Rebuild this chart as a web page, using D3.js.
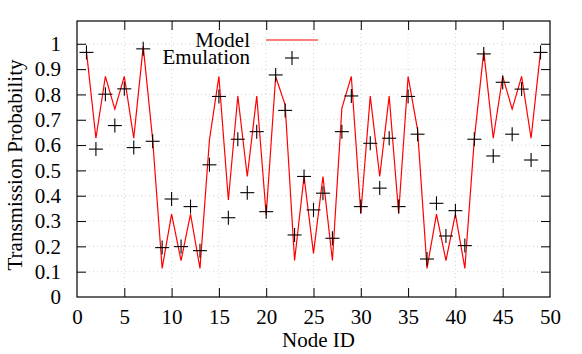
<!DOCTYPE html>
<html>
<head>
<meta charset="utf-8">
<script src="https://cdn.jsdelivr.net/npm/d3@7"></script>
<style>
  body { margin: 0; background: #fff; }
  text { font-family: "Liberation Serif", serif; fill: #000; }
</style>
</head>
<body>
<svg id="chart" width="582" height="354"></svg>
<script>
// node ids 1..49
var nodes = d3.range(1, 50);

var model = [0.97, 0.627, 0.871, 0.742, 0.871, 0.627, 0.99, 0.62, 0.113, 0.327,
             0.144, 0.327, 0.113, 0.62, 0.871, 0.383, 0.794, 0.476, 0.794, 0.324,
             0.871, 0.759, 0.144, 0.476, 0.172, 0.476, 0.144, 0.746, 0.871, 0.33,
             0.794, 0.476, 0.794, 0.33, 0.871, 0.66, 0.113, 0.327, 0.144, 0.327,
             0.113, 0.623, 0.97, 0.627, 0.871, 0.742, 0.871, 0.627, 0.97];

var emulation = [0.966, 0.584, 0.801, 0.677, 0.822, 0.59, 0.98, 0.615, 0.195, 0.387,
                 0.199, 0.357, 0.183, 0.522, 0.792, 0.313, 0.623, 0.412, 0.653, 0.337,
                 0.877, 0.737, 0.245, 0.476, 0.344, 0.41, 0.232, 0.653, 0.794, 0.357,
                 0.607, 0.43, 0.627, 0.357, 0.792, 0.643, 0.15, 0.37, 0.241, 0.341,
                 0.203, 0.623, 0.96, 0.557, 0.848, 0.643, 0.821, 0.541, 0.966];

var xTicks = d3.range(0, 51, 5);
var yTicks = d3.range(0, 11).map(function(d) { return d / 10; });

// plot frame (window.top is read-only, so no "top" here)
var frame = { left: 77, right: 550, top: 21, bottom: 297 };

var x = d3.scaleLinear().domain([0, 50]).range([frame.left, frame.right]);
var y = d3.scaleLinear().domain([0, 1.09]).range([frame.bottom, frame.top]);

var svg = d3.select("#chart");

// grid
var grid = svg.append("g")
  .attr("stroke", "#c8c8c8")
  .attr("stroke-width", 0.8)
  .attr("stroke-dasharray", "1,3");

grid.selectAll("line.gx").data(xTicks.slice(1, -1)).enter()
  .append("line")
  .attr("x1", function(d) { return x(d); })
  .attr("x2", function(d) { return x(d); })
  .attr("y1", frame.top).attr("y2", frame.bottom);

grid.selectAll("line.gy").data(yTicks.slice(1)).enter()
  .append("line")
  .attr("x1", frame.left).attr("x2", frame.right)
  .attr("y1", function(d) { return y(d); })
  .attr("y2", function(d) { return y(d); });

// axes: ticks inward, mirrored on top and right
var tickLen = 9;

var xAxis = svg.append("g")
  .attr("transform", "translate(0," + frame.bottom + ")")
  .call(d3.axisBottom(x).tickValues(xTicks).tickSizeInner(-tickLen).tickSizeOuter(0).tickPadding(12));

var xAxisTop = svg.append("g")
  .attr("transform", "translate(0," + frame.top + ")")
  .call(d3.axisTop(x).tickValues(xTicks).tickSizeInner(-tickLen).tickSizeOuter(0).tickFormat(""));

var yAxis = svg.append("g")
  .attr("transform", "translate(" + frame.left + ",0)")
  .call(d3.axisLeft(y).tickValues(yTicks).tickSizeInner(-tickLen).tickSizeOuter(0).tickPadding(16)
    .tickFormat(function(d) { return d === 0 ? "0" : d === 1 ? "1" : d3.format(".1f")(d); }));

var yAxisRight = svg.append("g")
  .attr("transform", "translate(" + frame.right + ",0)")
  .call(d3.axisRight(y).tickValues(yTicks).tickSizeInner(-tickLen).tickSizeOuter(0).tickFormat(""));

svg.selectAll(".domain").remove();
svg.selectAll(".tick line").attr("stroke", "#000").attr("stroke-width", 1);
svg.selectAll(".tick text")
  .style("font-family", "'Liberation Serif', serif")
  .style("font-size", "21px")
  .attr("fill", "#000");

// no ticks on the frame corners
xAxis.selectAll(".tick").filter(function(d) { return d === 0 || d === 50; }).select("line").remove();
xAxisTop.selectAll(".tick").filter(function(d) { return d === 0 || d === 50; }).select("line").remove();
yAxis.selectAll(".tick").filter(function(d) { return d === 0; }).select("line").remove();
yAxisRight.selectAll(".tick").filter(function(d) { return d === 0; }).select("line").remove();

// frame
svg.append("rect")
  .attr("x", frame.left).attr("y", frame.top)
  .attr("width", frame.right - frame.left).attr("height", frame.bottom - frame.top)
  .attr("fill", "none")
  .attr("stroke", "#000")
  .attr("stroke-width", 1.2);

// model line
var line = d3.line()
  .x(function(d, i) { return x(nodes[i]); })
  .y(function(d) { return y(d); });

svg.append("path")
  .datum(model)
  .attr("d", line)
  .attr("fill", "none")
  .attr("stroke", "#ff0000")
  .attr("stroke-width", 1.2)
  .attr("stroke-linejoin", "miter");

// emulation points
var p = 7;
function plus(g, cx, cy) {
  g.append("line").attr("x1", cx - p).attr("x2", cx + p).attr("y1", cy).attr("y2", cy);
  g.append("line").attr("x1", cx).attr("x2", cx).attr("y1", cy - p).attr("y2", cy + p);
}

var pts = svg.append("g").attr("stroke", "#000").attr("stroke-width", 1.1);
for (var i = 0; i < emulation.length; i++) {
  plus(pts, x(nodes[i]), y(emulation[i]));
}

// legend
svg.append("text").attr("x", 250).attr("y", 47).attr("text-anchor", "end")
  .style("font-size", "21px").text("Model");
svg.append("line").attr("x1", 266).attr("x2", 318).attr("y1", 40).attr("y2", 40)
  .attr("stroke", "#ff0000").attr("stroke-width", 1.2);
svg.append("text").attr("x", 250).attr("y", 64).attr("text-anchor", "end")
  .style("font-size", "21px").text("Emulation");
plus(svg.append("g").attr("stroke", "#000").attr("stroke-width", 1.1), 292, 58);

// axis titles
svg.append("text")
  .attr("x", (frame.left + frame.right) / 2 + 5).attr("y", 347)
  .attr("text-anchor", "middle")
  .style("font-size", "21px")
  .text("Node ID");

svg.append("text")
  .attr("transform", "translate(22," + ((frame.top + frame.bottom) / 2 + 6) + ") rotate(-90)")
  .attr("text-anchor", "middle")
  .style("font-size", "21px")
  .text("Transmission Probability");
</script>
</body>
</html>
